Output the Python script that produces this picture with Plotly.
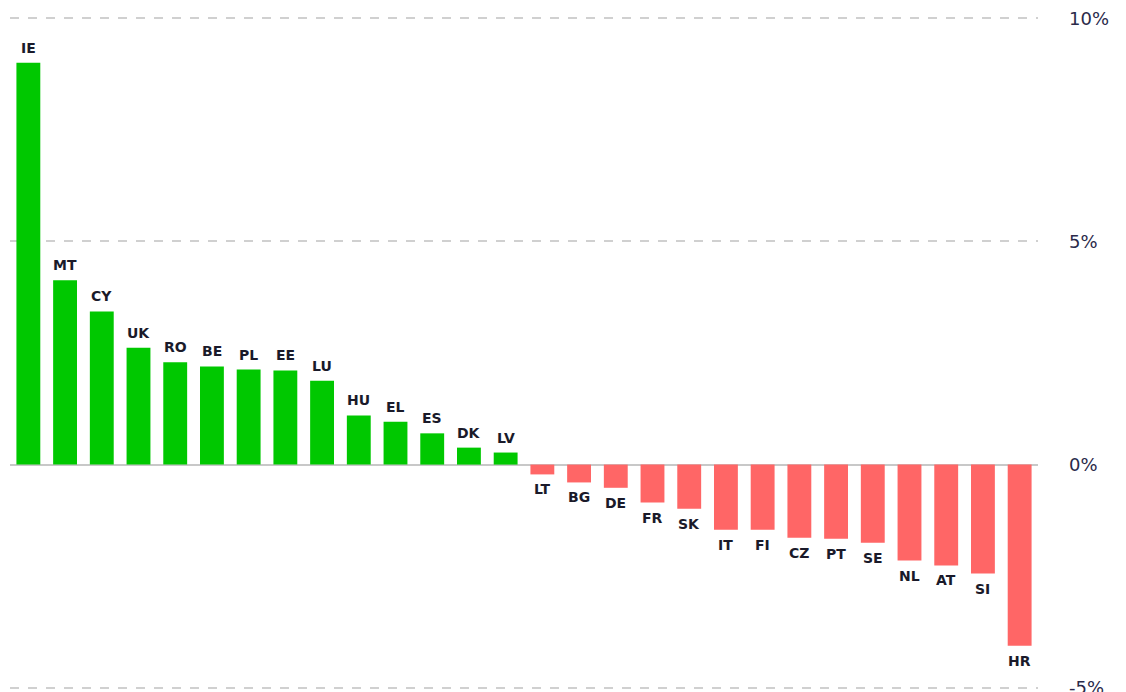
import plotly.graph_objects as go

countries = ["IE", "MT", "CY", "UK", "RO", "BE", "PL", "EE", "LU", "HU", "EL", "ES", "DK", "LV",
             "LT", "BG", "DE", "FR", "SK", "IT", "FI", "CZ", "PT", "SE", "NL", "AT", "SI", "HR"]
values = [9.0, 4.13, 3.43, 2.62, 2.29, 2.20, 2.13, 2.11, 1.88, 1.10, 0.96, 0.70, 0.38, 0.27,
          -0.22, -0.40, -0.52, -0.85, -0.99, -1.46, -1.46, -1.64, -1.66, -1.75, -2.15, -2.26, -2.44, -4.06]
tick_vals = [-5, 0, 5, 10]
tick_text = ["-5%", "0%", "5%", "10%"]

GREEN = "#00c800"
RED = "#ff6666"
colors = [GREEN if v >= 0 else RED for v in values]

fig = go.Figure()
fig.add_trace(go.Bar(x=countries, y=values, marker=dict(color=colors, line=dict(width=0)),
                     hoverinfo="x+y"))

# country labels above positive bars, below negative bars
for c, v in zip(countries, values):
    fig.add_annotation(x=c, y=v, text="<b>" + c + "</b>", showarrow=False,
                       yanchor="bottom" if v >= 0 else "top",
                       yshift=5 if v >= 0 else -5,
                       font=dict(family="DejaVu Sans", size=14, color="#1a1a2a"))

# page body has an 8px margin, so the figure is sized to fit what is left
fig.update_layout(
    width=1118, height=684,
    margin=dict(l=2, r=88, t=8, b=2),
    plot_bgcolor="white", paper_bgcolor="white",
    bargap=0.35,
    showlegend=False,
    xaxis=dict(showticklabels=False, showgrid=False, zeroline=False, showline=False,
               automargin=False),
    yaxis=dict(side="right", range=[-5.05, 10.05], tickvals=tick_vals, ticktext=tick_text,
               showgrid=True, gridcolor="#d0d0d0", griddash="dash", gridwidth=2,
               zeroline=True, zerolinecolor="#c8c8c8", zerolinewidth=2,
               ticklabelstandoff=30, automargin=False, ticklabeloverflow="allow",
               tickfont=dict(family="DejaVu Sans", size=18, color="#2a2a4a")),
)

fig.write_html("out.html")
